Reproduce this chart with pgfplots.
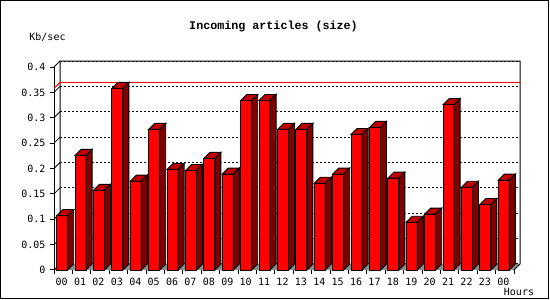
\documentclass[border=0pt]{standalone}
\usepackage{pgfplots}
\pgfplotsset{compat=1.18}
\usepackage{pgfplotstable}
\usepackage{fontspec}
\newfontfamily\labfont{DejaVu Sans Mono}
\newfontfamily\titlefont{Liberation Mono}
\definecolor{frontred}{RGB}{255,0,0}
\definecolor{topred}{RGB}{192,0,0}
\definecolor{sidered}{RGB}{128,0,0}
\definecolor{floorgray}{RGB}{140,140,140}
\pgfplotstableread{
i v
0 0.107
1 0.226
2 0.157
3 0.358
4 0.175
5 0.277
6 0.198
7 0.196
8 0.220
9 0.189
10 0.334
11 0.334
12 0.277
13 0.277
14 0.171
15 0.189
16 0.267
17 0.281
18 0.181
19 0.094
20 0.110
21 0.326
22 0.163
23 0.129
24 0.177
}\datatable
\begin{document}
\begin{tikzpicture}[x=1pt,y=1pt]
\path (0,0) rectangle (550,300);
\draw[line width=1pt] (0.5,1.5) rectangle (548.5,299.5);
\node[font=\titlefont\bfseries\fontsize{11.7}{13}\selectfont] at (273.5,273) {Incoming articles (size)};
\node[font=\labfont\fontsize{10}{12}\selectfont] at (47.5,263) {Kb/sec};
\node[font=\labfont\fontsize{10}{12}\selectfont] at (519,8) {Hours};
\begin{axis}[
  at={(54pt,30pt)}, anchor=south west, scale only axis,
  width=460pt, height=203pt,
  xmin=-0.5, xmax=24.5, ymin=0, ymax=0.4,
  clip=false,
  axis lines*=left,
  axis line style={line width=1pt, black},
  /pgf/number format/assume math mode=true,
  ticklabel style={font=\labfont\fontsize{10}{12}\selectfont},
  xtick={0,...,24},
  xticklabels={00,01,02,03,04,05,06,07,08,09,10,11,12,13,14,15,16,17,18,19,20,21,22,23,00},
  xticklabel style={xshift=-1.5pt, yshift=-1pt},
  major x tick style={draw=none},
  minor xtick={-0.5,0.5,...,24.5},
  minor tick length=4pt,
  minor x tick style={line width=1pt, black},
  ytick={0,0.05,0.1,0.15,0.2,0.25,0.3,0.35,0.4},
  yticklabels={0,0.05,0.1,0.15,0.2,0.25,0.3,0.35,0.4},
  major tick length=4pt,
  tick align=outside,
  major y tick style={line width=1pt, black},
  ymajorgrids,
  major grid style={line width=1pt, black, dash pattern=on 2pt off 2pt, xshift=6pt, yshift=6pt},
  yticklabel style={xshift=-1pt},
]
% floor
\fill[floorgray] (axis cs:-0.5,0) -- ([xshift=6pt,yshift=6pt]axis cs:-0.5,0) -- ([xshift=6pt,yshift=6pt]axis cs:24.5,0) -- (axis cs:24.5,0) -- cycle;
% back plane frame
\draw[line width=1pt, black] ([xshift=6pt,yshift=6pt]axis cs:-0.5,0) -- ([xshift=6pt,yshift=6pt]axis cs:-0.5,0.4) -- ([xshift=6pt,yshift=6pt]axis cs:24.5,0.4) -- ([xshift=6pt,yshift=6pt]axis cs:24.5,0) -- (axis cs:24.5,0);
\pgfplotsinvokeforeach{0,0.05,0.1,0.15,0.2,0.25,0.3,0.35,0.4}{
  \draw[line width=0.8pt, black] (axis cs:-0.5,#1) -- ++(6pt,6pt);
}
% maximum line
\addplot[red, line width=1pt, xshift=6pt, yshift=6pt, forget plot] coordinates {(-0.5,0.358) (24.5,0.358)};
\draw[red, line width=1pt] (axis cs:-0.5,0.358) -- ++(6pt,6pt);
% bar fronts
\addplot[ybar, bar width=11pt, bar shift=-1pt, fill=frontred, draw=black, line width=0.9pt] table[x=i, y=v] {\datatable};
% bar tops and sides
\addplot[scatter, only marks, mark=text, text mark={},
  visualization depends on={\thisrow{v}\as\val},
  scatter/@pre marker code/.code={
    \pgfmathsetmacro\hb{6-\val*507.5}
    \pgfmathsetmacro\ha{-\val*507.5}
    \filldraw[fill=topred, draw=black, line width=0.9pt] (-6.5pt,0pt) -- (-0.5pt,6pt) -- (10.5pt,6pt) -- (4.5pt,0pt) -- cycle;
    \filldraw[fill=sidered, draw=black, line width=0.9pt] (4.5pt,0pt) -- (10.5pt,6pt) -- (10.5pt,\hb pt) -- (4.5pt,\ha pt) -- cycle;
  },
  scatter/@post marker code/.code={}
] table[x=i, y=v] {\datatable};
\end{axis}
\end{tikzpicture}
\end{document}
